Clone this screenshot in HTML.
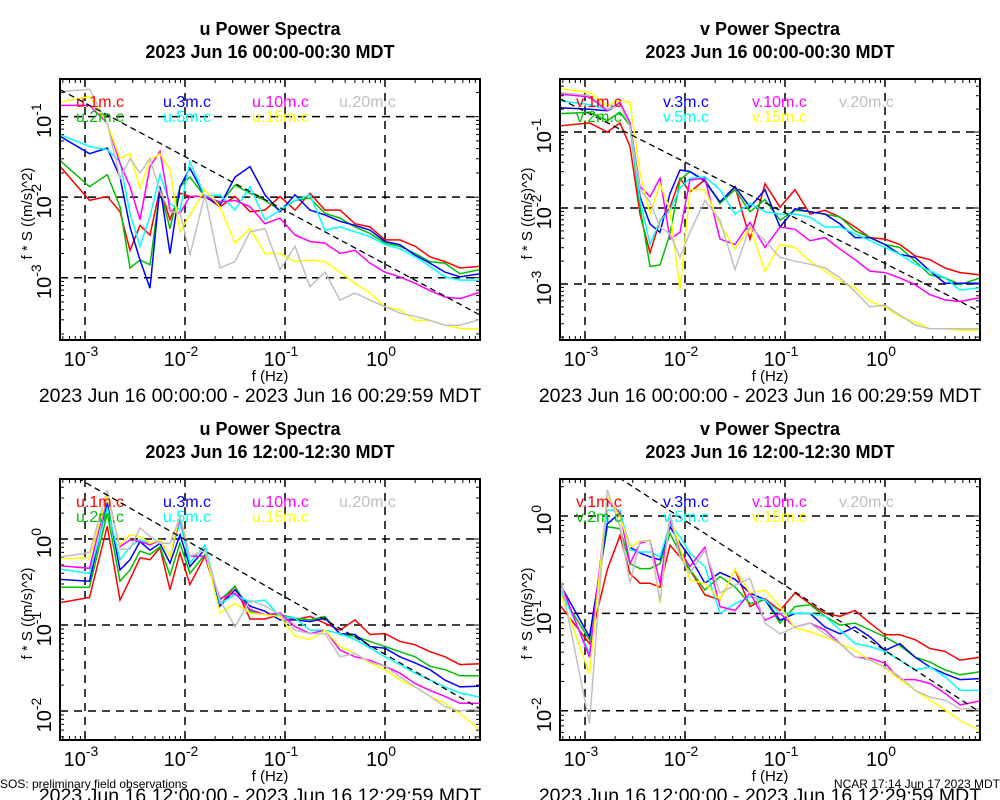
<!DOCTYPE html>
<html><head><meta charset="utf-8"><style>
html,body{margin:0;padding:0;background:#fff;}
svg{display:block;font-family:"Liberation Sans",Arial,sans-serif;}
</style></head><body>
<svg id="chart" width="1000" height="800" viewBox="0 0 1000 800" xmlns="http://www.w3.org/2000/svg"></svg>
<script>
// frequencies (Hz)
const freqs = [0.000556,0.00111,0.00167,0.00224,0.00282,0.00355,0.00447,0.00562,0.00708,0.00891,0.0112,0.0158,0.0224,0.0316,0.0447,0.0631,0.0891,0.126,0.178,0.251,0.355,0.501,0.708,1.0,1.41,2.0,2.82,3.98,5.62,8.91];
const seriesNames = ["1m","2m","3m","5m","10m","15m","20m"];
const seriesColors = ["#ff0000","#00c000","#0000ff","#00ffff","#ff00ff","#ffff00","#c0c0c0"];
// log10 of f*S ((m/s)^2), panel 1: u night
const uNight1m = [-1.61,-2.04,-1.99,-2.18,-2.66,-2.35,-2.47,-1.89,-2.28,-1.95,-1.99,-1.99,-2.12,-1.99,-2.18,-2.16,-1.99,-2.16,-1.95,-2.16,-2.16,-2.33,-2.37,-2.53,-2.53,-2.61,-2.74,-2.80,-2.88,-2.86];
const uNight2m = [-1.54,-1.87,-1.72,-2.12,-2.88,-2.78,-2.84,-1.91,-2.39,-1.87,-1.75,-1.99,-2.08,-1.85,-1.95,-2.04,-2.16,-2.04,-2.01,-2.20,-2.26,-2.37,-2.45,-2.57,-2.61,-2.70,-2.80,-2.82,-2.95,-2.90];
const uNight3m = [-1.24,-1.46,-1.39,-1.75,-2.37,-2.78,-3.13,-1.87,-2.70,-1.87,-1.64,-1.99,-2.10,-1.75,-1.62,-1.97,-2.18,-1.97,-2.16,-2.22,-2.30,-2.35,-2.41,-2.55,-2.59,-2.72,-2.82,-2.93,-2.99,-2.95];
const uNight5m = [-1.22,-1.37,-1.41,-1.56,-2.20,-2.61,-2.24,-1.72,-2.08,-2.16,-1.56,-1.99,-1.97,-2.16,-1.87,-2.28,-2.16,-2.04,-1.97,-2.41,-2.37,-2.43,-2.49,-2.59,-2.64,-2.74,-2.86,-2.99,-3.03,-3.03];
const uNight10m = [-0.86,-0.86,-1.08,-1.58,-1.87,-2.28,-1.62,-1.43,-2.16,-2.20,-1.99,-1.99,-2.06,-2.04,-2.12,-2.33,-2.26,-2.47,-2.55,-2.57,-2.70,-2.66,-2.82,-2.93,-2.99,-3.07,-3.16,-3.24,-3.26,-3.18];
const uNight15m = [-0.82,-0.75,-1.08,-1.52,-1.46,-1.89,-1.54,-1.46,-1.66,-2.43,-2.22,-1.91,-2.12,-2.57,-2.39,-2.70,-2.70,-2.80,-2.78,-2.80,-2.93,-3.07,-3.19,-3.36,-3.40,-3.53,-3.53,-3.59,-3.63,-3.64];
const uNight20m = [-0.69,-0.66,-1.08,-1.77,-1.52,-1.70,-1.52,-1.93,-2.18,-2.18,-2.72,-1.97,-2.88,-2.80,-2.43,-2.39,-2.90,-2.61,-3.11,-2.93,-3.28,-3.19,-3.28,-3.36,-3.44,-3.48,-3.53,-3.59,-3.59,-3.52];
// panel 2: v night
const vNight1m = [-0.92,-0.88,-1.00,-0.88,-1.19,-2.08,-2.59,-2.17,-1.99,-1.61,-1.79,-1.63,-1.94,-1.72,-2.41,-1.68,-1.99,-1.76,-2.08,-2.03,-2.12,-2.25,-2.39,-2.41,-2.48,-2.63,-2.68,-2.79,-2.85,-2.88];
const vNight2m = [-0.76,-0.74,-0.85,-0.74,-0.92,-1.99,-2.77,-2.75,-2.34,-1.63,-1.52,-1.63,-1.94,-1.76,-2.05,-1.89,-2.16,-2.03,-2.05,-2.08,-2.12,-2.30,-2.39,-2.48,-2.52,-2.70,-2.88,-2.92,-3.01,-2.92];
const vNight3m = [-0.68,-0.70,-0.72,-0.63,-0.88,-1.85,-2.21,-2.32,-1.81,-1.50,-1.52,-1.65,-1.92,-1.72,-1.99,-1.76,-2.25,-2.01,-2.05,-2.08,-2.21,-2.39,-2.39,-2.48,-2.61,-2.65,-2.83,-2.99,-2.99,-2.99];
const vNight5m = [-0.59,-0.64,-0.70,-0.63,-0.92,-1.90,-2.48,-2.17,-2.03,-1.74,-1.61,-1.59,-1.76,-2.08,-1.94,-2.05,-2.08,-2.08,-2.12,-2.25,-2.25,-2.34,-2.43,-2.52,-2.61,-2.74,-2.83,-2.92,-3.08,-3.05];
const vNight10m = [-0.50,-0.54,-0.72,-0.61,-0.88,-1.72,-1.85,-1.61,-2.41,-2.32,-1.63,-1.61,-2.41,-2.48,-2.19,-2.52,-2.25,-2.28,-2.43,-2.39,-2.54,-2.68,-2.83,-2.85,-2.92,-3.01,-3.14,-3.21,-3.23,-3.18];
const vNight15m = [-0.43,-0.48,-0.65,-0.59,-0.61,-1.54,-2.08,-1.68,-2.03,-3.08,-1.76,-1.76,-2.21,-2.54,-2.25,-2.83,-2.48,-2.52,-2.70,-2.83,-2.96,-3.05,-3.23,-3.30,-3.43,-3.50,-3.59,-3.59,-3.61,-3.61];
const vNight20m = [-0.48,-0.52,-0.70,-0.65,-0.92,-1.76,-1.92,-2.25,-2.34,-2.65,-2.32,-1.90,-2.16,-2.81,-2.25,-2.43,-2.65,-2.70,-2.74,-2.79,-2.92,-3.10,-3.30,-3.28,-3.41,-3.54,-3.59,-3.59,-3.59,-3.59];
// panel 3: u day
const uDay1m = [-0.74,-0.68,0.15,-0.71,-0.47,-0.22,-0.24,-0.10,-0.59,-0.16,-0.53,-0.20,-0.77,-0.55,-0.93,-0.93,-0.88,-0.94,-0.90,-0.98,-1.06,-0.94,-1.11,-1.10,-1.19,-1.23,-1.31,-1.37,-1.46,-1.45];
const uDay2m = [-0.56,-0.56,0.30,-0.49,-0.36,-0.14,-0.18,-0.09,-0.42,-0.05,-0.40,-0.18,-0.71,-0.55,-0.84,-0.88,-0.88,-0.92,-0.94,-0.90,-1.11,-1.13,-1.19,-1.25,-1.31,-1.37,-1.48,-1.52,-1.59,-1.59];
const uDay3m = [-0.47,-0.49,0.42,-0.36,-0.24,-0.03,-0.13,-0.05,-0.28,0.05,-0.32,-0.12,-0.78,-0.59,-0.78,-0.84,-0.94,-0.94,-0.96,-0.92,-1.10,-1.11,-1.25,-1.27,-1.37,-1.44,-1.52,-1.64,-1.72,-1.71];
const uDay5m = [-0.35,-0.40,0.36,-0.24,-0.09,-0.01,-0.05,-0.01,-0.20,0.19,-0.28,-0.07,-0.75,-0.65,-0.73,-0.71,-0.90,-0.92,-1.06,-1.06,-1.10,-1.17,-1.27,-1.37,-1.46,-1.56,-1.64,-1.72,-1.79,-1.84];
const uDay10m = [-0.31,-0.34,0.50,-0.09,-0.01,-0.03,-0.07,-0.01,-0.20,0.24,-0.20,-0.20,-0.69,-0.63,-0.82,-0.88,-0.86,-1.02,-1.10,-1.06,-1.29,-1.37,-1.41,-1.48,-1.56,-1.68,-1.76,-1.83,-1.91,-1.91];
const uDay15m = [-0.23,-0.22,0.50,-0.07,0.05,0.03,-0.05,-0.01,-0.20,0.28,-0.20,-0.13,-0.86,-0.75,-0.86,-0.88,-0.90,-1.13,-1.17,-1.06,-1.25,-1.33,-1.44,-1.52,-1.64,-1.72,-1.83,-1.91,-2.03,-2.22];
const uDay20m = [-0.21,-0.16,0.57,-0.12,-0.12,0.13,0.03,-0.05,-0.05,0.26,-0.20,-0.13,-0.71,-1.02,-0.71,-0.78,-0.88,-1.06,-1.10,-1.10,-1.37,-1.33,-1.43,-1.48,-1.60,-1.72,-1.83,-1.95,-2.00,-1.97];
// panel 4: v day
const vDay1m = [-0.91,-1.31,-0.55,-0.20,-0.59,-0.69,-0.69,-0.73,-0.30,-0.42,-0.55,-0.81,-0.86,-0.55,-0.93,-0.85,-0.97,-0.79,-0.90,-1.00,-1.03,-0.97,-1.10,-1.22,-1.22,-1.27,-1.36,-1.39,-1.48,-1.45];
const vDay2m = [-0.78,-1.27,-0.11,-0.13,-0.49,-0.54,-0.54,-0.49,-0.18,-0.38,-0.55,-0.76,-0.62,-0.73,-0.90,-0.86,-1.10,-0.93,-0.91,-1.03,-1.12,-1.10,-1.17,-1.24,-1.33,-1.45,-1.50,-1.58,-1.63,-1.60];
const vDay3m = [-0.69,-1.24,-0.08,0.03,-0.32,-0.38,-0.42,-0.45,-0.11,-0.28,-0.42,-0.69,-0.58,-0.65,-0.79,-0.86,-1.07,-1.00,-1.00,-1.14,-1.21,-1.14,-1.24,-1.38,-1.31,-1.45,-1.55,-1.62,-1.68,-1.67];
const vDay5m = [-0.73,-1.41,0.06,0.06,-0.35,-0.37,-0.37,-0.42,-0.08,-0.21,-0.38,-0.52,-1.00,-0.90,-0.83,-0.86,-1.00,-1.00,-1.00,-1.03,-1.17,-1.31,-1.34,-1.39,-1.48,-1.58,-1.55,-1.65,-1.79,-1.79];
const vDay10m = [-0.66,-1.45,0.16,0.03,-0.49,-0.28,-0.25,-0.69,-0.04,-0.35,-0.52,-0.32,-0.93,-0.97,-0.79,-1.07,-1.00,-1.14,-1.10,-1.17,-1.31,-1.45,-1.46,-1.51,-1.68,-1.68,-1.72,-1.82,-1.94,-1.90];
const vDay15m = [-0.76,-1.62,0.20,-0.01,-0.32,-0.26,-0.26,-0.90,0.01,-0.32,-0.66,-0.69,-0.86,-0.55,-0.79,-0.76,-0.93,-1.15,-1.19,-1.24,-1.31,-1.38,-1.48,-1.56,-1.68,-1.79,-1.89,-1.99,-2.10,-2.20];
const vDay20m = [-0.59,-2.13,0.27,-0.11,-0.69,-0.26,-0.25,-0.88,0.01,-0.42,-0.59,-0.35,-0.79,-0.71,-0.64,-1.10,-1.21,-1.14,-1.10,-1.21,-1.31,-1.45,-1.48,-1.55,-1.65,-1.79,-1.86,-1.89,-1.98,-1.98];
// reference -2/3 slope line: log10 value at f = 1 Hz
const refAt1Hz = [-2.83,-2.73,-1.34,-1.38];
const refSlope = -2/3;
const xTickExps = [-3,-2,-1,0];
const yTickExpsNight = [-1,-2,-3];
const yTickExpsDay = [0,-1,-2];
const titles = ["u Power Spectra","v Power Spectra","u Power Spectra","v Power Spectra"];
const subtitles = ["2023 Jun 16 00:00-00:30 MDT","2023 Jun 16 00:00-00:30 MDT","2023 Jun 16 12:00-12:30 MDT","2023 Jun 16 12:00-12:30 MDT"];
const rangeLabels = ["2023 Jun 16 00:00:00 - 2023 Jun 16 00:29:59 MDT","2023 Jun 16 12:00:00 - 2023 Jun 16 12:29:59 MDT"];

const panels = [
 {comp:"u", data:[uNight1m,uNight2m,uNight3m,uNight5m,uNight10m,uNight15m,uNight20m], x0:60, y0:79, y1:340, ytop:-0.532, ybot:-3.774, yt:yTickExpsNight, ti:0, ri:0},
 {comp:"v", data:[vNight1m,vNight2m,vNight3m,vNight5m,vNight10m,vNight15m,vNight20m], x0:560, y0:79, y1:340, ytop:-0.303, ybot:-3.737, yt:yTickExpsNight, ti:1, ri:0},
 {comp:"u", data:[uDay1m,uDay2m,uDay3m,uDay5m,uDay10m,uDay15m,uDay20m], x0:60, y0:479, y1:740, ytop:0.698, ybot:-2.337, yt:yTickExpsDay, ti:2, ri:1},
 {comp:"v", data:[vDay1m,vDay2m,vDay3m,vDay5m,vDay10m,vDay15m,vDay20m], x0:560, y0:479, y1:740, ytop:0.380, ybot:-2.300, yt:yTickExpsDay, ti:3, ri:1}
];
const XMIN=-3.25, XMAX=0.95, W=420;
const NS="http://www.w3.org/2000/svg";
const svg=document.getElementById("chart");
function mk(tag, attrs, parent){const e=document.createElementNS(NS,tag);for(const k in attrs)e.setAttribute(k,attrs[k]);(parent||svg).appendChild(e);return e;}

panels.forEach((p,pi)=>{
  const g=mk("g",{});
  
  
  const xS=f=>p.x0+(Math.log10(f)-XMIN)/(XMAX-XMIN)*W;
  const xL=l=>p.x0+(l-XMIN)/(XMAX-XMIN)*W;
  const yS=l=>p.y0+(p.ytop-l)/(p.ytop-p.ybot)*(p.y1-p.y0);
  const cx=p.x0+W/2;
  const t1=mk("text",{x:cx,y:p.y0-44,"text-anchor":"middle","font-size":"18","font-weight":"bold"},g);t1.textContent=titles[p.ti];
  
  
  const t2=mk("text",{x:cx,y:p.y0-21,"text-anchor":"middle","font-size":"18","font-weight":"bold"},g);t2.textContent=subtitles[p.ti];
  
  
  const cp=mk("clipPath",{id:"clip"+pi},g);mk("rect",{x:p.x0,y:p.y0,width:W,height:p.y1-p.y0},cp);
  const tk=mk("g",{stroke:"#000","stroke-width":"1"},g);
  
  
  for(let d=-4;d<=1;d++)for(let m=1;m<=9;m++){const l=d+Math.log10(m);if(l<XMIN||l>XMAX)continue;const x=xL(l);const len=m===1?8:4;
    mk("line",{x1:x,y1:p.y1,x2:x,y2:p.y1-len},tk);mk("line",{x1:x,y1:p.y0,x2:x,y2:p.y0+len},tk);}
  for(let d=-5;d<=1;d++)for(let m=1;m<=9;m++){const l=d+Math.log10(m);if(l<p.ybot||l>p.ytop)continue;const y=yS(l);const len=m===1?8:4;
    mk("line",{x1:p.x0,y1:y,x2:p.x0+len,y2:y},tk);mk("line",{x1:p.x0+W,y1:y,x2:p.x0+W-len,y2:y},tk);}
  const gr=mk("g",{stroke:"#000","stroke-width":"1.5","stroke-dasharray":"8,6"},g);
  
  
  xTickExps.forEach(e=>{const x=xL(e);mk("line",{x1:x,y1:p.y0,x2:x,y2:p.y1},gr);});
  p.yt.forEach(e=>{const y=yS(e);mk("line",{x1:p.x0,y1:y,x2:p.x0+W,y2:y},gr);});
  const sg=mk("g",{"clip-path":"url(#clip"+pi+")",fill:"none","stroke-width":"1.5"},g);
  p.data.forEach((vals,si)=>{
    const d=vals.map((v,i)=>(i?"L":"M")+xS(freqs[i]).toFixed(1)+","+yS(v).toFixed(1)).join(" ");
    const path=mk("path",{d:d,stroke:seriesColors[si]},sg);
    
    
  });
  const ra=refAt1Hz[pi];
  const ref=mk("line",{x1:xL(XMIN),y1:yS(ra+refSlope*XMIN),x2:xL(XMAX),y2:yS(ra+refSlope*XMAX),stroke:"#000","stroke-width":"1.3","stroke-dasharray":"6,4"},sg);
  
  
  const lg=mk("g",{"font-size":"16"},g);
  
  
  const colX=[16,103,192,279];
  seriesNames.forEach((n,si)=>{const col=Math.floor(si/2), row=si%2;
    const t=mk("text",{x:p.x0+colX[col],y:p.y0+28+row*15,fill:seriesColors[si]},lg);t.textContent=p.comp+"."+n+".c";
    
    });
  const fr=mk("rect",{x:p.x0,y:p.y0,width:W,height:p.y1-p.y0,fill:"none",stroke:"#000","stroke-width":"2"},g);
  
  
  xTickExps.forEach(e=>{const t=mk("text",{x:xL(e)-4,y:p.y1+26,"text-anchor":"middle","font-size":"20"},g);
    
    
    t.appendChild(document.createTextNode("10"));const s=mk("tspan",{dy:"-10","font-size":"14"},t);s.textContent=String(e);});
  p.yt.forEach(e=>{const y=yS(e);const t=mk("text",{transform:"translate("+(p.x0-9)+","+(y+4)+") rotate(-90)","text-anchor":"middle","font-size":"20"},g);
    
    
    t.appendChild(document.createTextNode("10"));const s=mk("tspan",{dy:"-10","font-size":"14"},t);s.textContent=String(e);});
  const xt=mk("text",{x:cx,y:p.y1+41,"text-anchor":"middle","font-size":"15"},g);xt.textContent="f (Hz)";
  
  
  const yt=mk("text",{transform:"translate("+(p.x0-28)+","+((p.y0+p.y1)/2+4)+") rotate(-90)","text-anchor":"middle","font-size":"15"},g);yt.textContent="f * S ((m/s)^2)";
  
  
  const rl=mk("text",{x:cx-10,y:p.y1+62,"text-anchor":"middle","font-size":"19.5"},g);rl.textContent=rangeLabels[p.ri];
  
  
});
const f1=mk("text",{x:0,y:788,"font-size":"12"});f1.textContent="SOS: preliminary field observations";


const f2=mk("text",{x:1000,y:788,"font-size":"12","text-anchor":"end"});f2.textContent="NCAR 17:14 Jun 17 2023 MDT";


</script>
</body></html>
